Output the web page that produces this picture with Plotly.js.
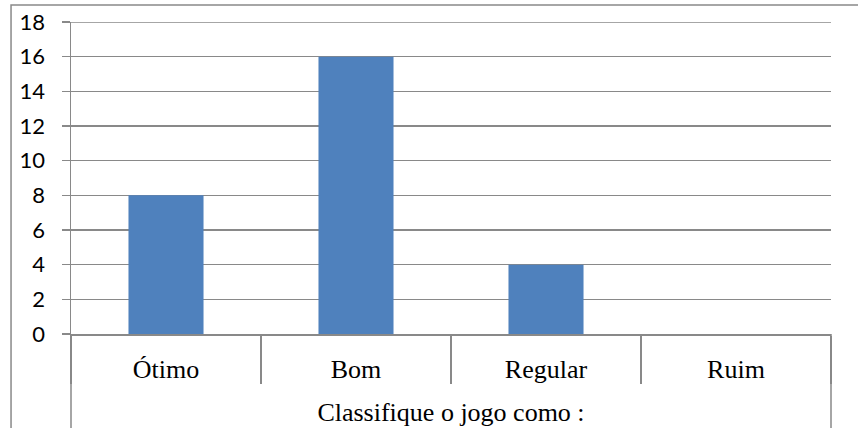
<!DOCTYPE html>
<html>
<head>
<meta charset="utf-8">
<script src="https://cdn.plot.ly/plotly-3.0.1.min.js"></script>
<style>html,body{margin:0;padding:0;background:#fff;}#chart{width:858px;height:428px;}</style>
</head>
<body>
<div id="chart"></div>
<script>
const categories = ["Ótimo", "Bom", "Regular", "Ruim"];
const values = [8, 16, 4, 0];
const yTicks = [0, 2, 4, 6, 8, 10, 12, 14, 16, 18];
const groupTitle = "Classifique o jogo como :";

const gray = "#898989";

const trace = {
  type: "bar",
  x: categories,
  y: values,
  marker: { color: "#4F81BD", line: { width: 0 } },
  hoverinfo: "skip"
};

const layout = {
  width: 858,
  height: 428,
  margin: { l: 71, r: 27, t: 22, b: 94, pad: 0 },
  paper_bgcolor: "#ffffff",
  plot_bgcolor: "#ffffff",
  showlegend: false,
  bargap: 0.605,
  xaxis: {
    type: "category",
    showgrid: false,
    zeroline: false,
    showline: true,
    linecolor: gray,
    linewidth: 1.5,
    ticks: "outside",
    tickson: "boundaries",
    ticklen: 48,
    tickwidth: 1.5,
    tickcolor: gray,
    ticklabelstandoff: 11,
    tickfont: { family: "Liberation Serif, Times New Roman, serif", size: 26, color: "#000" },
    title: {
      text: groupTitle,
      font: { family: "Liberation Serif, Times New Roman, serif", size: 26, color: "#000" },
      standoff: 20
    },
    automargin: false,
    fixedrange: true
  },
  yaxis: {
    range: [0, 18],
    tickvals: yTicks,
    ticktext: yTicks.map(String),
    showgrid: true,
    gridcolor: gray,
    gridwidth: 1.5,
    zeroline: false,
    showline: true,
    linecolor: gray,
    linewidth: 1.5,
    ticks: "outside",
    ticklen: 8,
    tickwidth: 1.5,
    tickcolor: gray,
    ticklabelstandoff: 12,
    tickfont: { family: "Lato, Open Sans, sans-serif", size: 22, color: "#000" },
    automargin: false,
    fixedrange: true
  },
  shapes: [
    { type: "line", xref: "paper", yref: "y", x0: 0, x1: 1, y0: 18, y1: 18, line: { color: gray, width: 1.5 } },
    { type: "line", xref: "paper", yref: "paper", x0: 0, x1: 0, y0: 0, y1: -0.35, line: { color: gray, width: 1.5 } },
    { type: "line", xref: "paper", yref: "paper", x0: 1, x1: 1, y0: 0, y1: -0.35, line: { color: gray, width: 1.5 } },
    { type: "rect", xref: "paper", yref: "paper", x0: -0.0789, x1: 1.06, y0: -0.4, y1: 1.0545, line: { color: gray, width: 1.5 }, layer: "below" }
  ]
};

Plotly.newPlot("chart", [trace], layout, { displayModeBar: false, staticPlot: true });
</script>
</body>
</html>
